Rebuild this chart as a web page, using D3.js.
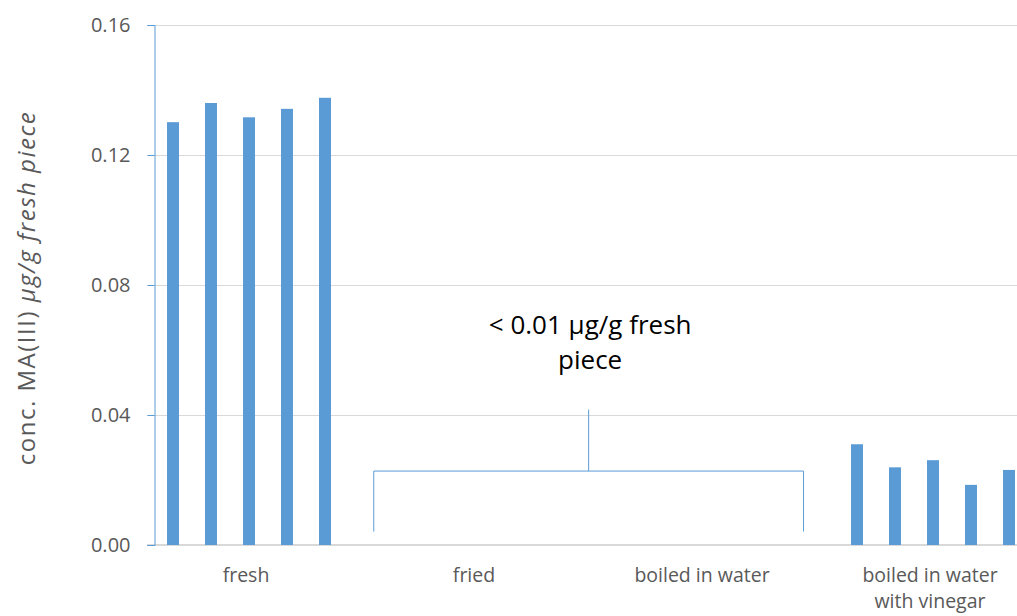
<!DOCTYPE html>
<html lang="en">
<head>
<meta charset="UTF-8">
<title>MA(III) concentration</title>
<script src="https://d3js.org/d3.v7.min.js"></script>
<style>
  body { margin: 0; background: #ffffff; }
  svg text { font-family: "Open Sans", sans-serif; }
</style>
</head>
<body>
<div id="chart"></div>
<script>
// categories and their (possibly wrapped) axis labels
var categories = ["fresh", "fried", "boiled in water", "boiled in water with vinegar"];
var categoryLabels = [["fresh"], ["fried"], ["boiled in water"], ["boiled in water", "with vinegar"]];
var replicates = ["1", "2", "3", "4", "5"];

// conc. MA(III), µg/g fresh piece (fried and boiled: below 0.01, no bars)
var freshValues = [0.1301, 0.1360, 0.1316, 0.1342, 0.1376];
var friedValues = [null, null, null, null, null];
var boiledValues = [null, null, null, null, null];
var vinegarValues = [0.0310, 0.0239, 0.0261, 0.0185, 0.0231];

var yTicks = [0, 0.04, 0.08, 0.12, 0.16];

// bracket over the "not detected" groups
var bracketLow = 0.0043, bracketMid = 0.0229, bracketTop = 0.0418;
var noteLines = ["< 0.01 \u00b5g/g fresh", "piece"];

var width = 1017, height = 616;
var blue = "#5b9bd5", grid = "#d9d9d9", labelColor = "#595959";

var svg = d3.select("#chart").append("svg")
    .attr("width", width)
    .attr("height", height);

var allValues = [freshValues, friedValues, boiledValues, vinegarValues];
var data = [];
categories.forEach(function (c, i) {
    replicates.forEach(function (r, j) {
        if (allValues[i][j] != null) data.push({cat: c, rep: r, value: allValues[i][j]});
    });
});

var y = d3.scaleLinear().domain([0, 0.16]).range([545, 25]);

// the picture is cropped: the category bands run past both edges
var x = d3.scaleBand().domain(categories).range([135, 1047]);
var xInner = d3.scaleBand().domain(replicates)
    .range([-95, 95])
    .paddingInner(26 / 38)
    .paddingOuter(13 / 38);

var axisX = 154;

// gridlines
svg.append("g")
    .selectAll("line")
    .data(yTicks.slice(1))
    .enter()
    .append("line")
        .attr("x1", axisX - 7)
        .attr("x2", width)
        .attr("y1", function (d) { return y(d) + 0.5; })
        .attr("y2", function (d) { return y(d) + 0.5; })
        .attr("stroke", grid)
        .attr("stroke-width", 1);

// bottom axis line
svg.append("line")
    .attr("x1", axisX - 7)
    .attr("x2", width)
    .attr("y1", y(0))
    .attr("y2", y(0))
    .attr("stroke", grid)
    .attr("stroke-width", 2);

// bars
svg.append("g")
    .selectAll("rect")
    .data(data)
    .enter()
    .append("rect")
        .attr("x", function (d) { return x(d.cat) + x.bandwidth() / 2 + xInner(d.rep); })
        .attr("y", function (d) { return y(d.value); })
        .attr("width", xInner.bandwidth())
        .attr("height", function (d) { return y(0) - y(d.value); })
        .attr("fill", blue);

// y axis
var yAxis = svg.append("g")
    .attr("transform", "translate(" + (axisX + 0.5) + ",0)")
    .call(d3.axisLeft(y).tickValues(yTicks).tickFormat(d3.format(".2f")).tickSize(7).tickPadding(17));
yAxis.select(".domain").attr("stroke", blue);
yAxis.selectAll(".tick line").attr("stroke", blue);
yAxis.selectAll(".tick text")
    .attr("fill", labelColor)
    .style("font-size", "20px")
    .style("font-family", "'Open Sans', sans-serif");

// x axis labels
var xLab = svg.append("g")
    .selectAll("text")
    .data(categories)
    .enter()
    .append("text")
        .attr("x", function (d) { return x(d) + x.bandwidth() / 2; })
        .attr("y", 582)
        .attr("text-anchor", "middle")
        .attr("fill", labelColor)
        .style("font-size", "19.5px");
xLab.each(function (d, i) {
    var t = d3.select(this);
    categoryLabels[i].forEach(function (line, k) {
        t.append("tspan")
            .attr("x", x(d) + x.bandwidth() / 2 - 3)
            .attr("dy", k === 0 ? 0 : 25.5)
            .text(line);
    });
});

// y axis title
var title = svg.append("text")
    .attr("transform", "translate(35," + ((y(0) + y(0.16)) / 2 + 3) + ") rotate(-90)")
    .attr("text-anchor", "middle")
    .attr("fill", labelColor)
    .style("font-size", "24px")
    .style("letter-spacing", "1.5px");
title.append("tspan").text("conc. MA(III) ");
title.append("tspan").style("font-style", "italic").text("\u00b5g/g fresh piece");

// bracket annotation
var bl = x("fried") + x.bandwidth() * 0.045;
var br = x("boiled in water") + x.bandwidth() * 0.93;
var bm = (bl + br) / 2;
var bracket = d3.path();
bracket.moveTo(bl, y(bracketLow));
bracket.lineTo(bl, y(bracketMid));
bracket.lineTo(br, y(bracketMid));
bracket.lineTo(br, y(bracketLow));
bracket.moveTo(bm, y(bracketMid));
bracket.lineTo(bm, y(bracketTop));
svg.append("path")
    .attr("d", bracket.toString())
    .attr("transform", "translate(0.5,0.5)")
    .attr("fill", "none")
    .attr("stroke", blue)
    .attr("stroke-width", 1);

var note = svg.append("text")
    .attr("x", bm + 2)
    .attr("y", 334)
    .attr("text-anchor", "middle")
    .attr("fill", "#000000")
    .style("font-size", "26px");
noteLines.forEach(function (line, k) {
    note.append("tspan")
        .attr("x", bm + 2)
        .attr("dy", k === 0 ? 0 : 35)
        .text(line);
});
</script>
</body>
</html>
